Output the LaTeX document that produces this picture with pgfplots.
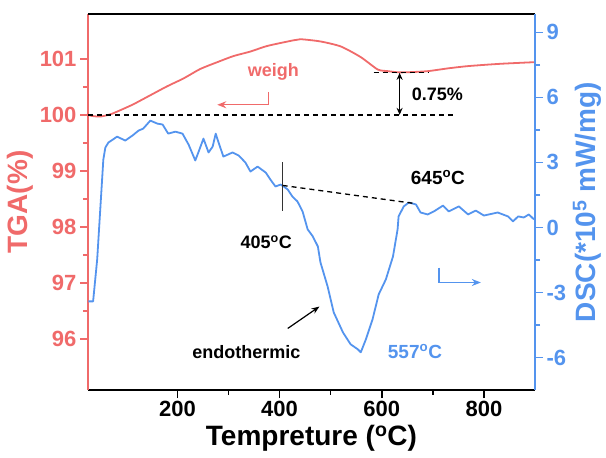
\documentclass[border=0pt]{standalone}
\usepackage{fontspec}
\setmainfont{Liberation Sans}
\usepackage{pgfplots}
\pgfplotsset{compat=1.18}
\usetikzlibrary{arrows.meta}
\definecolor{tgared}{RGB}{240,106,106}
\definecolor{dscblue}{RGB}{84,148,238}
\begin{document}
\begin{tikzpicture}
\begin{axis}[
  scale only axis, width=447pt, height=376pt,
  xmin=25, xmax=900, clip=false,
  /pgf/number format/assume math mode=true,
  tick label style={font=\fontsize{22}{26}\selectfont\bfseries},
  axis x line*=bottom, axis y line*=left,
  tick align=outside,
  major tick length=8pt, minor tick length=5pt,
  every tick/.style={tgared, line width=1.6pt},
  every x tick/.style={black, line width=1.6pt},
  x axis line style={black, line width=1.6pt, -},
  y axis line style={tgared, line width=1.6pt, -},
  xtick={200,400,600,800}, minor x tick num=1,
  ymin=95.09, ymax=101.8,
  ytick={96,97,98,99,100,101}, minor y tick num=1,
  yticklabel style={color=tgared},
  xlabel={Tempreture (\textsuperscript{o}C)},
  xlabel style={font=\fontsize{28}{32}\selectfont\bfseries, yshift=-1pt},
  ylabel={TGA(\%)},
  ylabel style={color=tgared, font=\fontsize{28}{32}\selectfont\bfseries},
]
\addplot[tgared, line width=1.8pt, smooth, tension=0.4] coordinates {
(25,100.0) (33,99.98) (49,99.97) (69,100.01) (90,100.09) (114,100.19)
(147,100.35) (180,100.51) (212,100.65) (245,100.82) (278,100.94)
(310,101.05) (343,101.13) (376,101.23) (427,101.33) (441,101.35)
(480,101.31) (520,101.22) (559,101.03) (592,100.81) (612,100.78)
(631,100.76) (650,100.76) (690,100.78) (730,100.83) (769,100.87)
(830,100.91) (898,100.94)
};
\draw[dash pattern=on 5pt off 4pt, line width=1.3pt] (axis cs:25,100) -- (axis cs:741,100);
\draw[dash pattern=on 5pt off 4pt, line width=1.3pt] (axis cs:584,100.75) -- (axis cs:690,100.75);
\draw[line width=1.3pt, {Stealth[length=7pt,width=6pt]}-{Stealth[length=7pt,width=6pt]}] (axis cs:635,100.75) -- (axis cs:635,100);
\node[anchor=west, font=\fontsize{18}{20}\selectfont\bfseries] at (axis cs:652,100.36) {0.75\%};
\node[tgared, font=\fontsize{18}{20}\selectfont\bfseries] at (axis cs:388,100.76) {weigh};
\draw[tgared, line width=1.3pt, -{Stealth[length=9pt,width=7pt]}] (axis cs:378,100.41) -- (axis cs:378,100.18) -- (axis cs:278,100.18);
\end{axis}
\begin{axis}[
  scale only axis, width=447pt, height=376pt,
  xmin=25, xmax=900, clip=false,
  /pgf/number format/assume math mode=true,
  tick label style={font=\fontsize{22}{26}\selectfont\bfseries},
  axis x line*=top, axis y line*=right,
  tick align=outside,
  major tick length=8pt, minor tick length=5pt,
  every tick/.style={dscblue, line width=1.6pt},
  x axis line style={black, line width=1.6pt, -},
  xtick=\empty,
  y axis line style={dscblue, line width=1.6pt, -},
  ymin=-7.5, ymax=9.85,
  ytick={-6,-3,0,3,6,9}, minor y tick num=1,
  yticklabel style={color=dscblue},
  ylabel={DSC(*10\textsuperscript{5} mW/mg)},
  ylabel style={color=dscblue, font=\fontsize{28}{32}\selectfont\bfseries},
]
\addplot[dscblue, line width=1.8pt, line join=round] coordinates {
(25.5,-3.41) (35,-3.41) (43,-1.47) (49,0.83) (55,3.13) (59,3.69) (65,3.92)
(82,4.19) (98,4.01) (112,4.24) (124,4.47) (133,4.56) (147,4.93) (161,4.79)
(171,4.75) (182,4.33) (196,4.42) (210,4.33) (222,3.82) (235,3.09) (241,3.46)
(251,4.10) (261,3.46) (269,3.73) (275,4.33) (280,3.96) (290,3.27) (308,3.46)
(320,3.32) (333,3.00) (343,2.58) (357,2.81) (373,2.53) (382,2.21) (392,1.89)
(402,1.98) (408,1.89) (416,1.75) (425,1.43) (435,1.20) (445,0.74) (455,-0.09)
(465,-0.41) (475,-0.88) (480,-1.61) (494,-2.72) (506,-3.92) (524,-4.84)
(539,-5.39) (553,-5.62) (559,-5.76) (569,-5.16) (582,-4.24) (594,-3.09)
(608,-2.40) (622,-1.34) (631,-0.09) (633,0.51) (643,0.97) (653,1.15)
(667,1.06) (676,0.69) (690,0.60) (702,0.74) (720,1.01) (731,0.74) (751,0.97)
(769,0.60) (784,0.78) (800,0.55) (827,0.69) (847,0.51) (857,0.28) (867,0.51)
(878,0.46) (888,0.60) (898,0.37)
};
\draw[line width=1.2pt, black!80] (axis cs:406,3.0) -- (axis cs:406,0.78);
\draw[dash pattern=on 5pt off 4pt, line width=1.3pt] (axis cs:406,1.94) -- (axis cs:663,1.11);
\node[font=\fontsize{18}{20}\selectfont\bfseries] at (axis cs:374,-0.69) {405\textsuperscript{o}C};
\node[font=\fontsize{19}{21}\selectfont\bfseries] at (axis cs:710,2.31) {645\textsuperscript{o}C};
\node[font=\fontsize{18}{20}\selectfont\bfseries] at (axis cs:335,-5.77) {endothermic};
\draw[line width=1.2pt, -{Stealth[length=8pt,width=6pt]}] (axis cs:416,-4.66) -- (axis cs:478,-3.65);
\node[dscblue, font=\fontsize{19}{21}\selectfont\bfseries] at (axis cs:665,-5.72) {557\textsuperscript{o}C};
\draw[dscblue, line width=1.3pt, -{Stealth[length=9pt,width=7pt]}] (axis cs:712,-1.85) -- (axis cs:712,-2.54) -- (axis cs:794,-2.54);
\end{axis}
\pgfresetboundingbox
\path[use as bounding box] (-88pt,-68pt) rectangle (518pt,390pt);
\end{tikzpicture}
\end{document}
